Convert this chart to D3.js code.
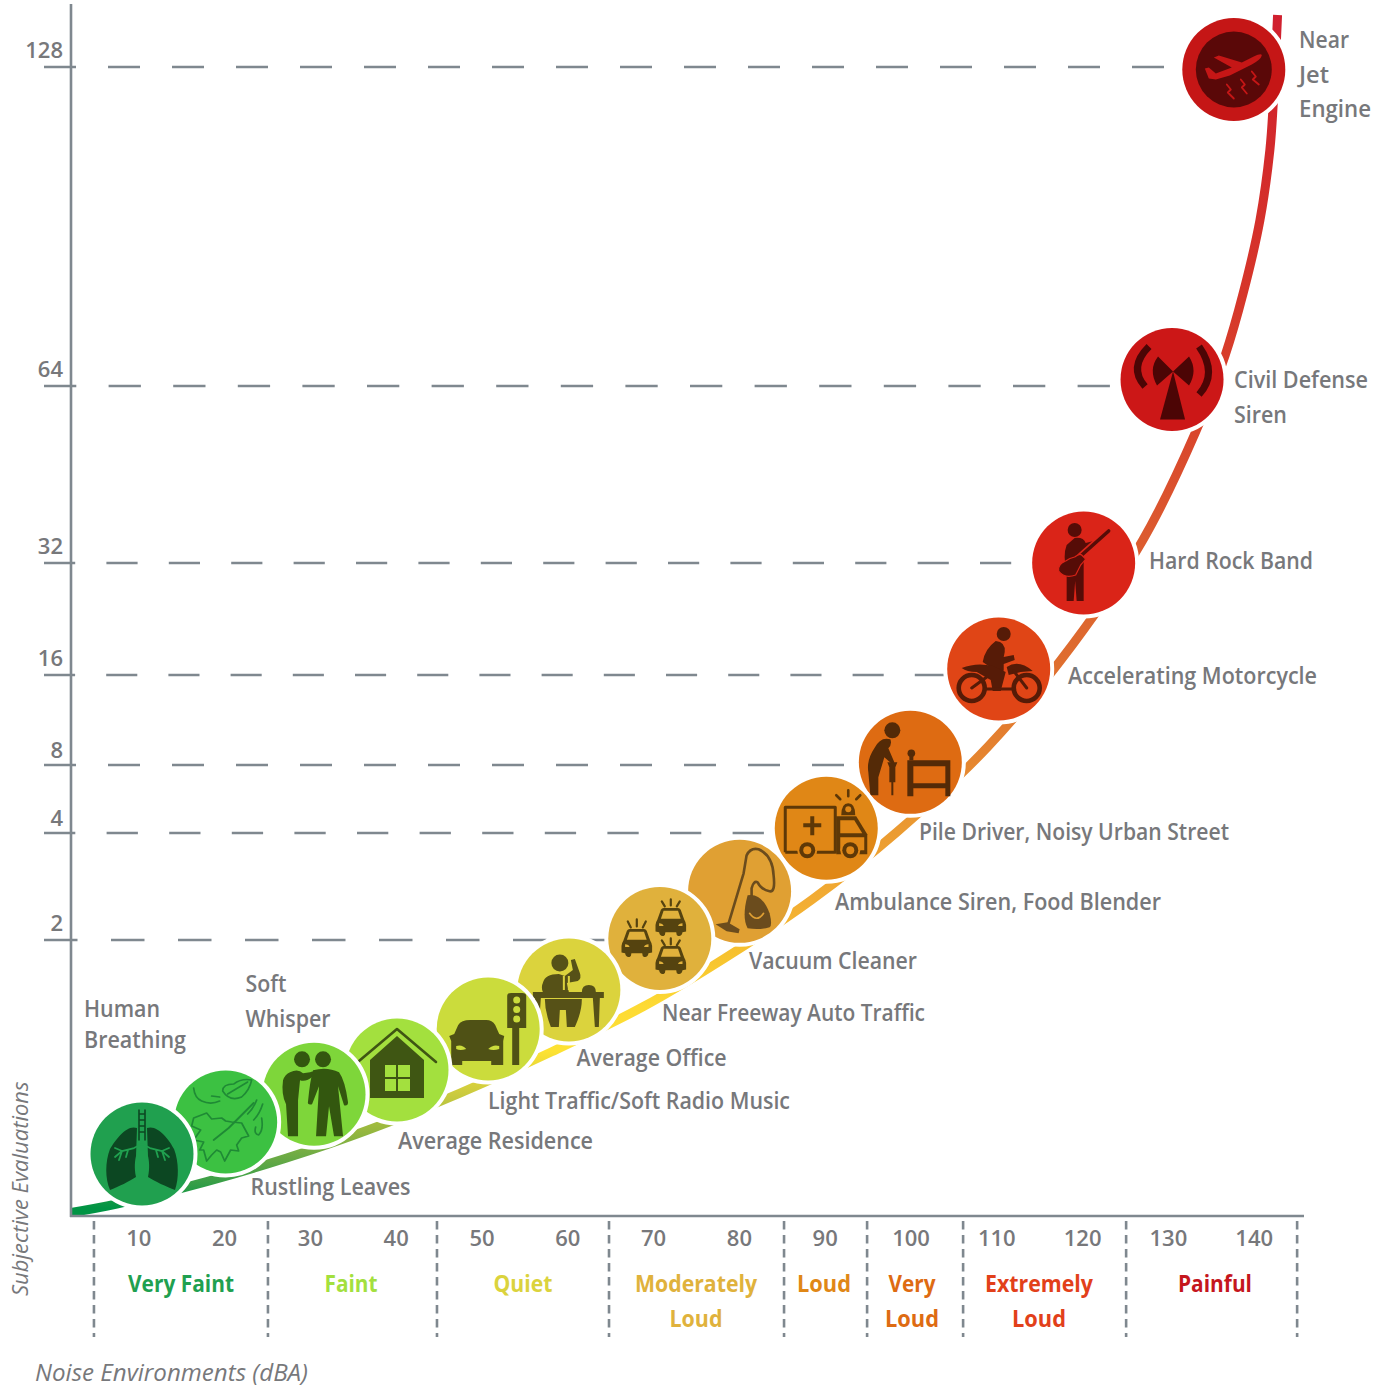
<!DOCTYPE html>
<html><head><meta charset="utf-8">
<style>html,body{margin:0;padding:0;background:#fff}svg{display:block}
text{font-family:"Open Sans",sans-serif}</style>
<script src="https://cdn.jsdelivr.net/npm/d3@7/dist/d3.min.js"></script></head>
<body><svg id="c" width="1390" height="1387" viewBox="0 0 1390 1387"></svg>
<script>
// ---------- data ----------
const xTicks=[10,20,30,40,50,60,70,80,90,100,110,120,130,140];
const yTicks=[128,64,32,16,8,4,2];
const sources=["Human Breathing","Rustling Leaves","Soft Whisper","Average Residence","Light Traffic/Soft Radio Music","Average Office","Near Freeway Auto Traffic","Vacuum Cleaner","Ambulance Siren, Food Blender","Pile Driver, Noisy Urban Street","Accelerating Motorcycle","Hard Rock Band","Civil Defense Siren","Near Jet Engine"];
const sourceDba=[10.35,20.1,30.4,40.07,50.7,60.1,70.7,80,90.1,99.9,110.2,120.1,130.4,137.6];
const sourceSones=[0.449,0.681,0.882,1.058,1.355,1.638,2.03,2.91,4.28,8.24,16.86,32,65.3,127.5];
const curveDba=[2.1,7.4,17.89,27.21,36.69,47.41,58.1,68.74,78.3,88.4,98.34,108.95,118.86,127,133.1,136.6,138.7,140.65,141.8,142.2,142.7];
const curveSones=[0.025,0.087,0.249,0.42,0.623,0.891,1.19,1.516,1.87,2.75,4.06,9.63,20.43,36.16,55.5,70.2,82.66,97.3,111.3,120.8,183.9];
const bandEdges=[4.75,25.03,44.73,64.78,85.18,94.86,106.05,125.05,144.98];
const bandNames=[["Very Faint"],["Faint"],["Quiet"],["Moderately","Loud"],["Loud"],["Very","Loud"],["Extremely","Loud"],["Painful"]];
// ---------- scales ----------
const x=d3.scaleLinear().domain([0,150]).range([53.2,1340.2]);
const y=d3.scaleLinear().domain([0,2,4,8,16,32,64,128,200]).range([1216,940,833,765,675,563,386,67,0]);
// ---------- style / layout ----------
const GREY="#77787b",AXIS="#7f888f";
const circleFill=["#20a04f","#3cc142","#7ed63a","#a3e03e","#cbdc3c","#dbd33d","#e0b13c","#e0a033","#e08716","#de6b12","#e04516","#da2418","#cc1717","#c51616"];
const iconFill=["#0c4722","#1f8a35","#33570f","#3f5613","#4f5115","#565117","#55430f","#6b4c1d","#5e3807","#542a07","#561b07","#560c07","#4c0505","#5a0808"];
const bandFill=["#1fa050","#a3e03e","#dbd33d","#e0b23c","#e08716","#de6b12","#e2401a","#c5161d"];
const bandCx=[181,351,523,696,824,912,1039,1215];
const bandW=[[106],[53],[59],[122,53],[54],[47,54],[108,54],[74]];
const gradY=[1208,1181,1158,1130,1093,1051,1006,958,900,832,746,644,540,433,293,150,15];
const gradC=["#009444","#3a9f47","#6aaa45","#98b83f","#cccb3f","#fde233","#fdda34","#f7c32e","#f2ac33","#eb9b31","#e4812f","#de6a2f","#dc5b2f","#d9462c","#d6362a","#d32a2b","#d0202f"];
const labelPos=[[84,1017,["Human","Breathing"],31,[76,102]],[250.5,1195,["Rustling Leaves"],0,[160]],[245.5,992,["Soft","Whisper"],35,[41,85]],[398,1149,["Average Residence"],0,[195]],[488,1109,["Light Traffic/Soft Radio Music"],0,[302]],[576.5,1066,["Average Office"],0,[150]],[662,1021,["Near Freeway Auto Traffic"],0,[263]],[749,969,["Vacuum Cleaner"],0,[168]],[835,910,["Ambulance Siren, Food Blender"],0,[326]],[919,840,["Pile Driver, Noisy Urban Street"],0,[310]],[1068,684,["Accelerating Motorcycle"],0,[249]],[1149,569,["Hard Rock Band"],0,[164]],[1234,388,["Civil Defense","Siren"],35,[134,53]],[1299,48,["Near","Jet","Engine"],34.5,[50,30,72]]];
const dashP={128:64,64:64.6,32:62.4,16:62.2,8:64,4:62.6,2:67};
const dashEnd={128:1180,64:1125,32:1035,16:950,8:860,4:780,2:612};
const tickLift={128:9,64:9,32:9,16:9,8:7.5,4:7.5,2:9};

const svg=d3.select("#c");
const L=71,B=1216;
function txt(g,px,py,s,fs,fill,w,anchor,len){const t=g.append("text").attr("x",px).attr("y",py).text(s).attr("font-size",fs).attr("fill",fill).attr("font-weight",w).attr("text-anchor",anchor||"start");if(len)t.attr("textLength",len).attr("lengthAdjust","spacingAndGlyphs");return t;}

const defs=svg.append("defs");
const lg=defs.append("linearGradient").attr("id","cg").attr("gradientUnits","userSpaceOnUse").attr("x1",0).attr("x2",0).attr("y1",B).attr("y2",0);
gradY.forEach((gy,i)=>lg.append("stop").attr("offset",(B-gy)/B).attr("stop-color",gradC[i]));

const gGrid=svg.append("g");
yTicks.forEach(t=>{
  gGrid.append("line").attr("x1",44).attr("x2",dashEnd[t]).attr("y1",y(t)).attr("y2",y(t)).attr("stroke",AXIS).attr("stroke-width",2.4).attr("stroke-dasharray",`${dashP[t]/2} ${dashP[t]/2}`);
  txt(gGrid,63,y(t)-tickLift[t],t,22,GREY,600,"end");
});
const lineGen=d3.line().x(d=>x(d[0])).y(d=>y(d[1])).curve(d3.curveCatmullRom.alpha(0.5));
svg.append("path").attr("d",lineGen(curveDba.map((d,i)=>[d,curveSones[i]]))).attr("fill","none").attr("stroke","url(#cg)").attr("stroke-width",9);
const gAx=svg.append("g").attr("stroke",AXIS).attr("stroke-width",2.6);
gAx.append("line").attr("x1",L).attr("x2",L).attr("y1",4).attr("y2",B+1);
gAx.append("line").attr("x1",L-1).attr("x2",1304).attr("y1",B).attr("y2",B);
const xg=svg.append("g").attr("transform",`translate(-0.7,1246)`).call(d3.axisBottom(x).tickValues(xTicks).tickSize(0).tickPadding(0));
xg.select(".domain").remove();
xg.selectAll("text").attr("font-size",22).attr("font-weight",600).attr("fill",GREY).attr("font-family",'"Open Sans"').attr("dy",0).attr("y",0);
bandEdges.forEach(e=>svg.append("line").attr("x1",x(e)).attr("x2",x(e)).attr("y1",1221).attr("y2",1337).attr("stroke",AXIS).attr("stroke-width",2.6).attr("stroke-dasharray","8.5 5.5"));
bandNames.forEach((n,i)=>n.forEach((s,k)=>{txt(svg,bandCx[i],1292+k*35,s,22.6,bandFill[i],700,"middle",bandW[i][k]);}));
txt(svg,35,1380.5,"Noise Environments (dBA)",24,GREY,400,"start",273).attr("font-style","italic");
svg.append("text").attr("transform","translate(28,1296) rotate(-90)").text("Subjective Evaluations").attr("font-size",22).attr("font-style","italic").attr("fill",GREY);

// ---------- icons, drawn in each circle's local frame ----------
const P=(g,d,f,extra)=>{const p=g.append("path").attr("d",d).attr("fill",f);if(extra)for(const k in extra)p.attr(k,extra[k]);return p;};
const S=(g,d,c,w)=>g.append("path").attr("d",d).attr("fill","none").attr("stroke",c).attr("stroke-width",w).attr("stroke-linecap","round").attr("stroke-linejoin","round");
const H=(g,cx,cy,r,f)=>g.append("circle").attr("cx",cx).attr("cy",cy).attr("r",r).attr("fill",f);
function car(g,c,bg,cx,cy,s){const t=g.append("g").attr("transform",`translate(${cx},${cy}) scale(${s})`);
  P(t,"M-15,-3 L-11,-14 Q-10,-16 -8,-16 L8,-16 Q10,-16 11,-14 L15,-3 Q17,0 17,3 L17,10 L13,11 Q12,16 8,15 Q6,14 6,11 L-6,11 Q-6,14 -8,15 Q-12,16 -13,11 L-17,10 L-17,3 Q-17,0 -15,-3Z",c);
  P(t,"M-11,-4 L-8,-13 L8,-13 L11,-4Z",bg);
  P(t,"M-13,1 Q-9,1 -8,4 L-13,4Z M13,1 Q9,1 8,4 L13,4Z",bg);
  return t;}
const icons=[
 (g,c,bg)=>{ // lungs
  P(g,"M-5,-26 C-15,-30 -26,-15 -32,-5 C-37,8 -37,25 -32,36 C-24,33 -12,27 -6,23 C-8,14 -7,6 -6,2Z",c);
  P(g,"M5,-26 C15,-30 27,-15 32,-5 C37,8 37,25 33,36 C25,33 12,27 6,23 C8,14 7,6 6,2Z",c);
  S(g,"M-3,-44 V-14 M3,-44 V-14 M-3,-40 H3 M-3,-34 H3 M-3,-28 H3 M-3,-22 H3",c,1.6);
  S(g,"M0,-14 V-10 L-8,-6 L-20,-3 L-27,-6 M-20,-3 L-23,6 M-14,-4 L-16,3 M-20,-3 L-27,3 M0,-10 L8,-6 L20,-3 L27,-6 M20,-3 L23,6 M14,-4 L16,3 M20,-3 L27,3",bg,1.8);
  P(g,"M-5,24 Q-8,-3 0,-4 Q8,-3 5,24Z",bg);
 },
 (g,c)=>{ // leaves & wind
  S(g,"M-32,-34 Q-31,-24 -24,-21 Q-15,-17 -6,-21 M-14,-26 L-6,-25",c,1.7);
  S(g,"M-3,-31 Q-3,-38 8,-38 Q16,-44 26,-42 Q24,-32 16,-25 Q4,-20 -3,-31Z M2,-28 L22,-40",c,1.6);
  S(g,"M-32,-4 L-19,-9 L-14,-3 L-4,-4 L0,-1 L6,0 L16,1 L23,14 L16,16 L11,23 L13,29 L5,28 L-1,39 L-5,30 L-9,28 L-14,33 L-19,39 L-22,28 L-26,28 L-22,20 L-32,18 L-25,8 L-34,4Z",c,1.7);
  S(g,"M-12,18 L3,6 L28,-19",c,1.9);
  S(g,"M22,-8 Q28,-14 31,-22 M28,-2 Q34,-8 37,-18 M30,5 Q28,12 33,13 Q38,8 36,-4",c,1.7);
 },
 (g,c)=>{ // two people whispering
  H(g,-12,-35,8,c);H(g,9,-35,8,c);
  P(g,"M-24,-22 Q-16,-26 -11,-21 L-4,-22 Q1,-25 -1,-18 Q-8,-12 -14,-14 L-16,6 L-16,42 L-26,42 L-28,10 Q-33,0 -31,-14 Q-29,-20 -24,-22Z",c);
  P(g,"M-1,-24 Q13,-28 25,-22 Q31,-14 34,8 Q34,12 30,11 L24,-8 L29,42 L20,42 L15,12 L12,42 L2,42 L5,-8 L-2,10 Q-7,11 -6,7 Q-4,-14 -1,-24Z",c);
 },
 (g,c,bg)=>{ // house
  S(g,"M-38,-9 L0,-41 L39,-8",c,2.6);
  P(g,"M-27,-10 L0,-34 L27,-10 L27,28 L-27,28Z",c);
  P(g,"M-12,-5 H-1 V7 H-12Z M1,-5 H13 V7 H1Z M-12,9 H-1 V21 H-12Z M1,9 H13 V21 H1Z",bg);
 },
 (g,c,bg)=>{ // car & traffic light
  P(g,"M-39,7 L-34,5 L-30,-4 Q-27,-9 -18,-9 H-2 Q4,-9 7,-4 L11,5 L16,7 L15,12 V36 H3 V32 H-26 V36 H-37 V12Z",c);
  P(g,"M-32,17 Q-26,15 -22,20 Q-28,22 -32,20Z M11,17 Q5,15 0,20 Q5,22 11,20Z",bg);
  P(g,"M19,-33 Q19,-36 23,-36 H34 Q38,-36 38,-33 V-1 H31 V36 H24 V-1 H19Z",c);
  H(g,28.5,-29,3.5,bg);H(g,28.5,-19.5,3.5,bg);H(g,28.5,-10,3.5,bg);
 },
 (g,c,bg)=>{ // person at desk
  H(g,-9,-27,8.5,c);
  P(g,"M-26,-7 Q-24,-16 -10,-16 L-4,-14 L4,-20 L2,-30 L6,-31 L11,-17 Q13,-12 9,-9 L-2,-7 L0,2 L-26,2 Q-28,-3 -26,-7Z",c);
  P(g,"M-36,2 H35 V8 H31 L30,37 H26 L24,8 H-28 L-30,37 H-34 L-34,8 H-36Z",c);
  P(g,"M13,2 Q13,-5 20,-5 Q27,-5 27,2Z",c);
  P(g,"M-24,9 H13 Q13,22 6,37 L-2,37 L-3,20 L-9,20 L-10,37 L-18,37 Q-24,22 -24,9Z",c);
  P(g,"M-6,-14 H-4 V0 H-6Z M-1,-14 H1 V0 H-1Z",bg);
 },
 (g,c,bg)=>{ // three cars
  car(g,c,bg,-23,5,0.9); car(g,c,bg,11,-16,0.9); car(g,c,bg,11,22,0.9);
  S(g,"M-32,-17 L-29,-11 M-23,-19 V-12 M-14,-17 L-17,-11 M2,-37 L5,-32 M11,-39 V-33 M20,-37 L17,-32 M2,2 L5,7 M11,0 V6 M20,2 L17,7",c,2.2);
 },
 (g,c,bg)=>{ // vacuum cleaner
  S(g,"M-11,32 L4,-18 L7,-36 Q11,-44 19,-42 Q33,-36 34,-16 Q36,1 30,0 Q21,-2 18,-9 Q14,-11 12,-3 L12,5",c,2.6);
  P(g,"M8,4 Q22,1 30,22 Q33,34 30,36 Q20,39 8,37 Q2,26 8,4Z",c);
  S(g,"M10,22 Q17,32 24,22",bg,1.6);
  P(g,"M-24,33 L-12,31 L0,38 L-1,42 L-13,40Z",c);
 },
 (g,c,bg)=>{ // ambulance
  S(g,"M-41,24 V-21 H9 V24 H-41",c,3).attr("stroke-linecap","butt");
  P(g,"M-16,-12 H-12 V-5 H-5 V-1 H-12 V7 H-16 V-1 H-23 V-5 H-16Z",c);
  P(g,"M10,-12 H30 L41,6 V26 H10Z",c);
  P(g,"M14,-8 H28 L36,5 H14Z",bg);
  P(g,"M14,9 H38 V22 H14Z",bg);
  P(g,"M15,-13 Q15,-25 22,-25 Q29,-25 29,-13Z",c);
  H(g,22,-19,3,bg);
  S(g,"M10,-33 L14,-29 M22,-38 V-32 M34,-33 L30,-29",c,2.6);
  H(g,-19,22,10,bg);H(g,-19,22,8,c);H(g,-19,22,4,bg);H(g,24,22,10,bg);H(g,24,22,8,c);H(g,24,22,4,bg);
 },
 (g,c)=>{ // pile driver
  H(g,-18,-32,8,c);
  P(g,"M-20,-23 Q-30,-26 -36,-14 Q-44,-2 -42,10 L-40,33 L-32,33 L-32,15 L-26,-5 L-18,2 L-16,0 L-22,-14 Q-18,-18 -20,-23Z",c);
  P(g,"M-23,0 H-13 L-15,5 V20 L-17,20 V33 L-19,33 V20 L-21,20 V5Z",c);
  H(g,1,-9,3.8,c);
  P(g,"M-1,-8 H3 V-2 H-1Z",c);
  P(g,"M-3,-2 H40 V34 H35 V26 H3 V34 H-3Z M3,4 V21 H35 V4Z",c,{"fill-rule":"evenodd"});
 },
 (g,c)=>{ // motorcycle
  H(g,5,-35,7,c);
  P(g,"M-3,-28 Q7,-27 6,-17 L5,-12 L15,-14 L16,-9 L5,-5 L5,1 L0,19 L-6,19 L-3,2 L-16,-7 Q-14,-20 -3,-28Z",c);
  P(g,"M-37,-1 Q-22,-7 -6,-3 L7,3 L2,22 L-6,22 L-8,11 L-22,3 Q-32,3 -37,-1Z M8,-2 Q20,-10 34,2 L22,3 L10,6Z",c);
  S(g,"M-40,19 a13,13 0 1 0 26,0 a13,13 0 1 0 -26,0",c,4.6);
  S(g,"M15,19 a13,13 0 1 0 26,0 a13,13 0 1 0 -26,0",c,4.6);
  S(g,"M-27,19 L-12,8 M28,19 L15,2 M-14,20 H16",c,3);
 },
 (g,c,bg)=>{ // guitarist
  H(g,-9,-33,7,c);
  P(g,"M-9,-25 Q0,-26 2,-20 L10,-22 L13,-18 L0,-7 L0,38 L-7,38 L-8.5,18 L-10,38 L-17,38 L-17,10 Q-21,-8 -17,-18Z",c);
  S(g,"M-3,-7 L25,-32",bg,7);
  S(g,"M-3,-7 L25,-32",c,3.6);
  P(g,"M-9,-6 Q-4,-10 -2,-8 L2,-4 Q-1,0 -3,2 L-8,12 Q-19,16 -25,8 Q-26,1 -18,-2 Q-14,-5 -9,-6Z",c,{stroke:bg,"stroke-width":1.2});
 },
 (g,c)=>{ // siren
  P(g,"M1,-8 L-14,-23 Q-24,-10 -15,6Z M1,-8 L17,-23 Q26,-9 17,6Z",c);
  P(g,"M1,-8 L13,40 H-12Z",c);
  S(g,"M-23,-33 Q-44,-12 -27,7",c,7).attr("stroke-linecap","butt");
  S(g,"M27,-33 Q46,-6 27,15",c,7).attr("stroke-linecap","butt");
 },
 (g,c,bg)=>{ // plane in dark disc
  H(g,0,0,38,c);
  P(g,"M-25,9 L-29,-1 L-25,-2 L-18,4 L-2,-2 L-20,-12 L-15,-14 L8,-7 L20,-13 Q28,-17 28,-14 Q27,-10 18,-5 L-4,6 L-18,10Z",bg);
  S(g,"M-7,15 L-3,20 L-6,23 L0,29 M7,10 L11,15 L8,18 L13,24 M18,2 L22,7 L19,10 L25,15",bg,1.8);
 }
];

// ---------- sources ----------
const gs=svg.append("g");
d3.range(sources.length).reverse().forEach(i=>{
  const g=gs.append("g").attr("transform",`translate(${x(sourceDba[i])},${y(sourceSones[i])})`);
  g.append("circle").attr("r",51.5).attr("fill",circleFill[i]).attr("stroke","#fff").attr("stroke-width",8).attr("paint-order","stroke");
  icons[i](g,iconFill[i],circleFill[i]);
});
// ---------- labels ----------
labelPos.forEach(([lx,ly,lines,dy,ws])=>lines.forEach((s,k)=>txt(svg,lx,ly+k*dy,s,22.6,GREY,600,"start",ws[k])));
</script></body></html>
